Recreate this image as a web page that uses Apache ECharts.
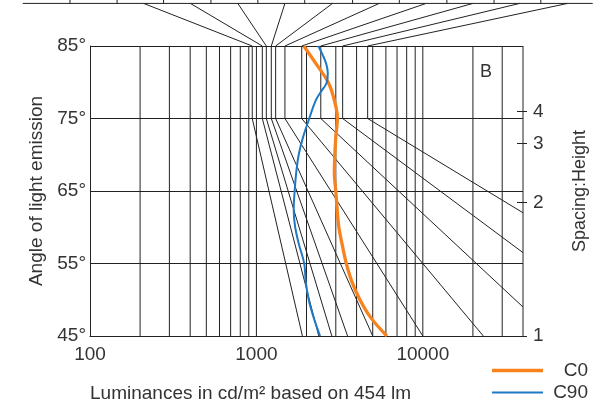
<!DOCTYPE html>
<html><head><meta charset="utf-8">
<script src="https://cdn.jsdelivr.net/npm/echarts@6/dist/echarts.min.js"></script>
<style>html,body{margin:0;padding:0;background:#fff}#c{width:604px;height:407px}</style>
</head><body><div id="c"></div>
<script>
// ---- data ----
const xMin = 100, xMax = 40000;
const xTickLabels = [100, 1000, 10000];
const angleMin = 45, angleMax = 85;
const gridVerticals = [200,300,400,500,600,700,800,900,1000,2000,3000,4000,5000,6000,7000,8000,9000,10000,20000,30000,40000];
const limitTopL = [944, 1085, 1147, 1229, 1305, 1484, 1872, 2437, 3298, 4661];
const limitKneeAngle = 75;
const limitEndL = [1890, 2370, 2840, 3530, 5000, 10000, 23100, 40000, 40000, 40000];
const limitEndAngle = [45, 45, 45, 45, 45, 45, 45, 49.0, 56.5, 62.0];
const fanTopL = [210, 401, 773, 1484, 2868, 5474, 10470, 20020, 38230, 74170];
const topScaleTicks = [75.8, 145.5, 276.7, 532.9, 1020, 1951, 3784, 7225, 13950, 26800, 51180];
const topScaleExtent = [39.4, 104900];
const spacingHeight = [1, 2, 3, 4];
const c0Angles = [85, 82.5, 80, 77.5, 75, 72.5, 70, 67.5, 65, 62.5, 60, 57.5, 55, 52.5, 50, 47.5, 45];
const c0L = [1925, 2290, 2700, 2940, 3065, 3000, 2960, 2940, 3000, 3055, 3130, 3285, 3470, 3747, 4187, 4880, 6090];
const c90Angles = [85, 83.75, 82.5, 81.25, 80, 78.75, 77.5, 75, 72.5, 70, 67.5, 65, 62.5, 60, 57.5, 55, 52.5, 50, 47.5, 45];
const c90L = [2353, 2505, 2630, 2685, 2649, 2453, 2273, 2078, 1911, 1795, 1734, 1698, 1675, 1710, 1808, 1938, 1979, 2063, 2211, 2413];

// ---- layout ----
const W = 604, H = 407;
const mainLeft = 90, mainRight = 523, mainTop = 46, mainBottom = 336;
const decadePx = (mainRight - mainLeft) / Math.log10(xMax / xMin);
const topLeft = mainLeft - decadePx * Math.log10(xMin / topScaleExtent[0]);
const topRight = mainRight + decadePx * Math.log10(topScaleExtent[1] / xMax);
const INK = '#222', TXT = '#333', FONT = 'Liberation Sans, Arial, sans-serif';
const thin = {color: INK, width: 1};
const C0_COLOR = '#f7821e', C90_COLOR = '#1f78c4';

const series = [];
function seg(data, gi, style) {
  series.push({type: 'line', xAxisIndex: gi, yAxisIndex: gi === 0 ? 0 : 2, data: data,
    symbol: 'none', silent: true, lineStyle: style || thin, z: 2, animation: false});
}
gridVerticals.forEach(v => seg([[v, angleMin], [v, angleMax]], 0));
limitTopL.forEach((l, i) => seg([[l, angleMax], [l, limitKneeAngle], [limitEndL[i], limitEndAngle[i]]], 0));
const topLevel = 1, tickLevel = 1.08;
seg([[topScaleExtent[0], topLevel], [topScaleExtent[1], topLevel]], 1);
topScaleTicks.forEach(t => seg([[t, topLevel], [t, tickLevel]], 1));
fanTopL.forEach((t, i) => seg([[t, topLevel], [limitTopL[i], 0]], 1));

series.push({name: 'C0', type: 'line', xAxisIndex: 0, yAxisIndex: 0, smooth: 0.4, symbol: 'none',
  data: c0Angles.map((a, i) => [c0L[i], a]), lineStyle: {color: C0_COLOR, width: 3.3}, itemStyle: {color: C0_COLOR}, z: 5, animation: false});
series.push({name: 'C90', type: 'line', xAxisIndex: 0, yAxisIndex: 0, smooth: 0.4, symbol: 'none',
  data: c90Angles.map((a, i) => [c90L[i], a]), lineStyle: {color: C90_COLOR, width: 2}, itemStyle: {color: C90_COLOR}, z: 5, animation: false});

const shAngles = spacingHeight.map(r => Math.atan(r) * 180 / Math.PI);

function legendFor(name, top, h) {
  return {data: [name], orient: 'horizontal', left: 487, top: top, itemWidth: 51, itemHeight: h, icon: 'rect',
    itemGap: 0, itemTextGap: 5,
    formatter: n => '{r|' + n + '}',
    textStyle: {color: TXT, fontSize: 19, fontFamily: FONT,
      rich: {r: {width: 40, align: 'right', fontSize: 19, lineHeight: 20, color: TXT, fontFamily: FONT}}}};
}

const chart = echarts.init(document.getElementById('c'), null, {renderer: 'canvas'});
chart.setOption({
  backgroundColor: '#fff',
  textStyle: {fontFamily: FONT},
  title: {text: 'B', right: W - 497, top: 58, textStyle: {fontSize: 18, fontWeight: 'normal', color: TXT, fontFamily: FONT}},
  legend: [legendFor('C0', 356, 3.3), legendFor('C90', 378, 2)],
  grid: [
    {left: mainLeft, right: W - mainRight, top: mainTop, bottom: H - mainBottom},
    {left: topLeft, right: W - topRight, top: 0, height: mainTop}
  ],
  xAxis: [
    {type: 'log', gridIndex: 0, min: xMin, max: xMax, logBase: 10,
     axisLine: {show: true, lineStyle: thin}, axisTick: {show: false}, splitLine: {show: false},
     axisLabel: {customValues: xTickLabels, formatter: v => String(v), fontSize: 19, color: TXT, margin: 9, fontFamily: FONT},
     name: 'Luminances in cd/m² based on 454 lm', nameLocation: 'start', nameGap: 0,
     nameTextStyle: {fontSize: 19, color: TXT, align: 'left', verticalAlign: 'top', padding: [48, 0, 0, 0], fontFamily: FONT}},
    {type: 'log', gridIndex: 1, min: topScaleExtent[0], max: topScaleExtent[1], show: false}
  ],
  yAxis: [
    {type: 'value', gridIndex: 0, min: angleMin, max: angleMax, interval: 10,
     axisLine: {show: true, lineStyle: thin}, axisTick: {show: false},
     splitLine: {show: true, lineStyle: thin},
     axisLabel: {formatter: '{value}°', fontSize: 19, color: TXT, margin: 4, fontFamily: FONT},
     name: 'Angle of light emission', nameLocation: 'middle', nameRotate: 90, nameGap: 44,
     nameTextStyle: {fontSize: 19, color: TXT, fontFamily: FONT}},
    {type: 'value', gridIndex: 0, position: 'right', min: angleMin, max: angleMax, offset: -6,
     axisLine: {show: false}, splitLine: {show: false},
     axisTick: {show: true, length: 10, customValues: shAngles, lineStyle: thin},
     axisLabel: {customValues: shAngles, margin: 16, fontSize: 19, color: TXT, fontFamily: FONT,
       formatter: v => String(Math.round(Math.tan(v * Math.PI / 180)))},
     name: 'Spacing:Height', nameLocation: 'middle', nameRotate: 90, nameGap: 54,
     nameTextStyle: {fontSize: 18, color: TXT, fontFamily: FONT}},
    {type: 'value', gridIndex: 1, min: 0, max: tickLevel, show: false}
  ],
  series: series
});
</script></body></html>
